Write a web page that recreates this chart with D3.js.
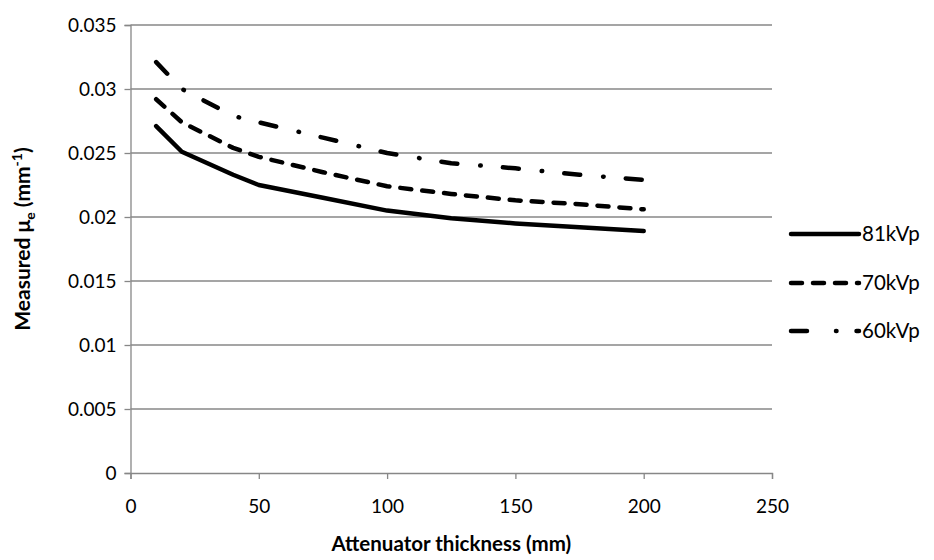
<!DOCTYPE html>
<html>
<head>
<meta charset="utf-8">
<script src="https://cdn.jsdelivr.net/npm/d3@7"></script>
<style>
  body { margin: 0; background: #fff; }
  text { font-family: Lato, "Open Sans", sans-serif; fill: #000; }
</style>
</head>
<body>
<div id="chart"></div>
<script>
// data
const thickness = [10, 20, 40, 50, 75, 100, 125, 150, 175, 200];
const mu81 = [0.0271, 0.0251, 0.0233, 0.0225, 0.0215, 0.0205, 0.0199, 0.0195, 0.0192, 0.0189];
const mu70 = [0.0292, 0.0274, 0.0254, 0.0247, 0.0235, 0.0224, 0.0218, 0.0213, 0.0210, 0.0206];
const mu60 = [0.0321, 0.0300, 0.0279, 0.0274, 0.0262, 0.0250, 0.0242, 0.0238, 0.0233, 0.0229];
const seriesNames = ['81kVp', '70kVp', '60kVp'];
const xTicks = [0, 50, 100, 150, 200, 250];
const yTicks = [0, 0.005, 0.01, 0.015, 0.02, 0.025, 0.03, 0.035];

const width = 934, height = 560;
const margin = [25, 87, 130.5, 162]; // top, bottom, left, right

const svg = d3.select('#chart').append('svg')
    .attr('width', width).attr('height', height);

const scaleX = d3.scaleLinear([0, 250], [margin[2], width - margin[3]]);
const scaleY = d3.scaleLinear([0, 0.035], [height - margin[1], margin[0]]);

// gridlines
svg.append('g').selectAll('line')
    .data(yTicks.filter(d => d > 0))
    .join('line')
    .attr('x1', scaleX(0)).attr('x2', scaleX(250))
    .attr('y1', d => scaleY(d)).attr('y2', d => scaleY(d))
    .attr('stroke', '#878787').attr('stroke-width', 1.3);

// axes
const axisX = svg.append('g')
    .attr('transform', `translate(0,${scaleY(0)})`)
    .call(d3.axisBottom(scaleX).tickValues(xTicks).tickSize(6).tickPadding(17).tickFormat(d3.format('d')));
const axisY = svg.append('g')
    .attr('transform', `translate(${scaleX(0)},0)`)
    .call(d3.axisLeft(scaleY).tickValues(yTicks).tickSize(6).tickPadding(8).tickFormat(d => d === 0 ? '0' : String(+d.toFixed(3))));

[axisX, axisY].forEach(a => {
    a.select('.domain').attr('stroke', '#878787').attr('stroke-width', 1.3);
    a.selectAll('.tick line').attr('stroke', '#878787').attr('stroke-width', 1.3);
    a.selectAll('.tick text').style('font-size', '19px').attr('fill', '#000');
});
axisX.selectAll('.tick text').attr('dy', '0.9em');

// series
const styles = [
    { dash: null },
    { dash: '11,11' },
    { dash: '16,23,0.5,22.2' }
];
const allSeries = [mu81, mu70, mu60];
const line = d3.line().x((d, i) => scaleX(thickness[i])).y(d => scaleY(d));

svg.append('g').selectAll('path')
    .data(allSeries)
    .join('path')
    .attr('d', d => line(d))
    .attr('fill', 'none')
    .attr('stroke', '#000')
    .attr('stroke-width', 4.5)
    .attr('stroke-linecap', 'round')
    .attr('stroke-linejoin', 'round')
    .attr('stroke-dasharray', (d, i) => styles[i].dash);

// legend
const legend = svg.append('g');
const legendY = [234, 283, 331];
seriesNames.forEach((name, i) => {
    legend.append('line')
        .attr('x1', 791).attr('x2', 859)
        .attr('y1', legendY[i]).attr('y2', legendY[i])
        .attr('stroke', '#000').attr('stroke-width', 4.5)
        .attr('stroke-linecap', 'round')
        .attr('stroke-dasharray', i === 1 ? '11,11' : (i === 2 ? '16,29,0.5,20' : null));
    legend.append('text')
        .attr('x', 862).attr('y', legendY[i]).attr('dy', '0.35em')
        .style('font-size', '20.5px')
        .text(name);
});

// axis titles
svg.append('text')
    .attr('transform', `translate(${(scaleX(0) + scaleX(250)) / 2},${height - 9})`)
    .style('text-anchor', 'middle').style('font-size', '20.5px').style('font-weight', 'bold')
    .text('Attenuator thickness (mm)');

const labelY = svg.append('text')
    .attr('transform', `translate(30,239)rotate(-90)`)
    .style('text-anchor', 'middle').style('font-size', '21px').style('font-weight', 'bold');
labelY.append('tspan').text('Measured μ');
labelY.append('tspan').attr('dy', 5).style('font-size', '14px').text('e');
labelY.append('tspan').attr('dy', -5).text(' (mm');
labelY.append('tspan').attr('dy', -8).style('font-size', '14px').text('-1');
labelY.append('tspan').attr('dy', 8).text(')');
</script>
</body>
</html>
